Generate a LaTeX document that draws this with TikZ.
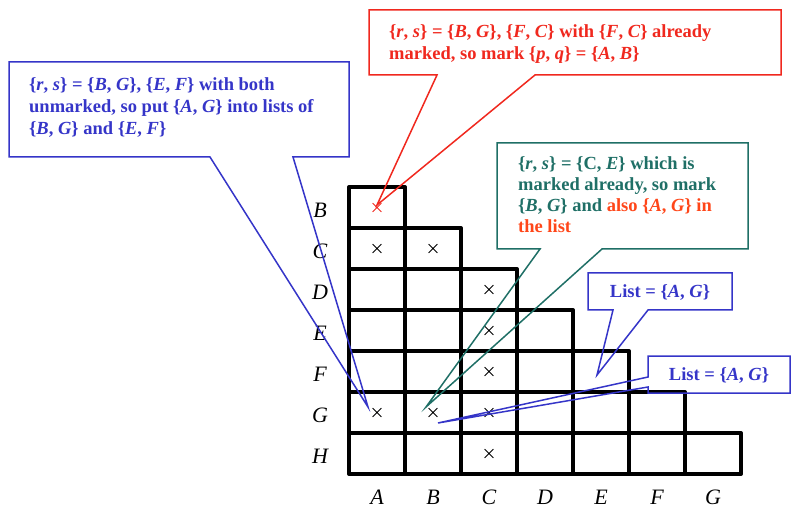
\documentclass[tikz,border=0pt]{standalone}
\usepackage{fontspec}
\setmainfont{Liberation Serif}
\usetikzlibrary{shapes.misc}
\definecolor{redink}{HTML}{F0281E}
\definecolor{blueink}{HTML}{3535C8}
\definecolor{tealink}{HTML}{1F6F66}
\definecolor{orangeink}{HTML}{FF4619}
\tikzset{cell/.style={draw=black,line width=4pt,line join=round}, xmark/.style={cross out,draw,minimum size=8pt,inner sep=0pt,line width=.8pt}, lab/.style={font=\fontsize{22}{22}\selectfont\itshape,inner sep=0pt}, bubble/.style={line width=1.5pt,line join=miter}, say/.style={anchor=north west,align=left,inner sep=0pt,font=\fontsize{18.5}{22}\selectfont\bfseries}}
\newcommand\vv[1]{\textit{#1}}

\begin{document}
\begin{tikzpicture}[x=1pt,y=-1pt]
\useasboundingbox (0,0) rectangle (792,510);
% staircase table
\foreach \r in {1,...,7}{\foreach \c in {1,...,\r}{\draw[cell]({349+(\c-1)*56},{187+(\r-1)*41}) rectangle +(56,41);}}
\foreach \l [count=\i] in {B,C,D,E,F,G,H}{\node[lab] (row\l) at (320,{187+(\i-.5)*41+3}) {\l};}
\foreach \l [count=\i] in {A,B,C,D,E,F,G}{\node[lab] (col\l) at ({349+(\i-.5)*56},497) {\l};}
\node[xmark,draw=redink] (x11) at (377,207.5) {};
\foreach \c/\r in {1/2,2/2,3/3,3/4,3/5,1/6,2/6,3/6,3/7}{\node[xmark] (x\c\r) at ({349+(\c-.5)*56},{187+(\r-.5)*41}) {};}
% callouts
\coordinate (tipred) at (377,205);
\coordinate (tipblue) at (368,407);
\coordinate (tipteal) at (426,407);
\coordinate (tiplistA) at (597,375);
\coordinate (tiplistB) at (438,423);
\draw[bubble,draw=redink](369,10)--(781,10)--(781,75)--(535,75)--(tipred)--(437,75)--(369,75)--cycle;
\node[say,text=redink] (redtxt) at (389,24) {\{\vv{r}, \vv{s}\} = \{\vv{B}, \vv{G}\}, \{\vv{F}, \vv{C}\} with \{\vv{F}, \vv{C}\} already\\marked, so mark \{\vv{p}, \vv{q}\} = \{\vv{A}, \vv{B}\}};
\draw[bubble,draw=blueink](9,62)--(349,62)--(349,157)--(293,157)--(tipblue)--(210,157)--(9,157)--cycle;
\node[say,text=blueink] (bluetxt) at (29,77) {\{\vv{r}, \vv{s}\} = \{\vv{B}, \vv{G}\}, \{\vv{E}, \vv{F}\} with both\\unmarked, so put \{\vv{A}, \vv{G}\} into lists of\\\{\vv{B}, \vv{G}\} and \{\vv{E}, \vv{F}\}};
\draw[bubble,draw=tealink](497,143)--(748,143)--(748,249)--(602,249)--(tipteal)--(540,249)--(497,249)--cycle;
\node[say,text=tealink,font=\fontsize{18.5}{21}\selectfont\bfseries] (tealtxt) at (518,156) {\{\vv{r}, \vv{s}\} = \{C, \vv{E}\} which is\\marked already, so mark\\\{\vv{B}, \vv{G}\} and \textcolor{orangeink}{also \{\vv{A}, \vv{G}\} in}\\\textcolor{orangeink}{the list}};
\draw[bubble,draw=blueink](588,273)--(732,273)--(732,310)--(648,310)--(tiplistA)--(613,310)--(588,310)--cycle;
\node[say,anchor=center,text=blueink] (listA) at (660,293) {List = \{\vv{A}, \vv{G}\}};
\draw[bubble,draw=blueink](648,356)--(790,356)--(790,393)--(648,393)--(648,387)--(tiplistB)--(648,377)--cycle;
\node[say,anchor=center,text=blueink] (listB) at (719,376) {List = \{\vv{A}, \vv{G}\}};
\end{tikzpicture}
\end{document}
